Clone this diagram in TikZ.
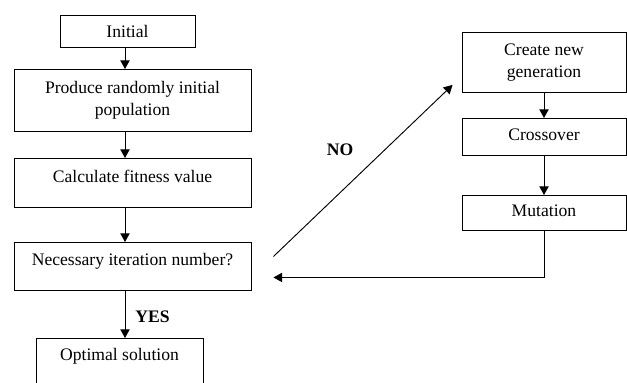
\documentclass[tikz,border=0pt]{standalone}
\usepackage{fontspec}
\setmainfont{Liberation Serif}
\usetikzlibrary{arrows.meta}
\begin{document}
\begin{tikzpicture}[x=0.75pt,y=-0.75pt,
    box/.style={draw, line width=0.7pt, inner sep=0pt, align=center, anchor=north,
      font=\fontsize{13.2}{16.5}\selectfont},
    arr/.style={line width=0.7pt, -{Triangle[length=6.5pt,width=7pt]}},
    lbl/.style={inner sep=0pt, font=\fontsize{13.2}{16.5}\selectfont\bfseries}]
    \useasboundingbox (0,0) rectangle (627,382);
    \clip (0,0) rectangle (627,382);
    \node[box, minimum width=101.25pt, text height=16.5pt, text depth=7.5pt] (init) at (127.5,15) {Initial};
    \node[box, minimum width=177.75pt, minimum height=46.5pt] (prod) at (132.5,69) {Produce randomly initial\\population};
    \node[box, minimum width=177.75pt, text height=18pt, text depth=18.75pt] (calc) at (132.5,158) {Calculate fitness value};
    \node[box, minimum width=177.75pt, text height=17.25pt, text depth=18.75pt] (iter) at (132.5,242) {Necessary iteration number?};
    \node[box, minimum width=125.25pt, text height=16.5pt, text depth=20pt] (opt) at (119.5,338) {Optimal solution};
    \node[box, minimum width=123pt, minimum height=45pt] (gen) at (544,32) {Create new\\generation};
    \node[box, minimum width=123pt, text height=16.5pt, text depth=11.25pt] (cross) at (544,118) {Crossover};
    \node[box, minimum width=123pt, text height=15.75pt, text depth=10.5pt] (mut) at (544,195) {Mutation};
    \coordinate (ax) at (125,0);
    \draw[arr] (init.south -| ax) -- (prod.north -| ax);
    \draw[arr] (prod.south -| ax) -- (calc.north -| ax);
    \draw[arr] (calc.south -| ax) -- (iter.north -| ax);
    \draw[arr] (iter.south -| ax) -- (opt.north -| ax);
    \node[lbl] (yes) at (152.5,317) {YES};
    \draw[arr] (gen) -- (cross);
    \draw[arr] (cross) -- (mut);
    \draw[arr] (mut.south) |- ([shift={(22,11)}]iter.east);
    \draw[arr] ([shift={(22,-10)}]iter.east) -- ([shift={(-9,-8)}]gen.south west);
    \node[lbl] (no) at (340,150) {NO};
\end{tikzpicture}
\end{document}
